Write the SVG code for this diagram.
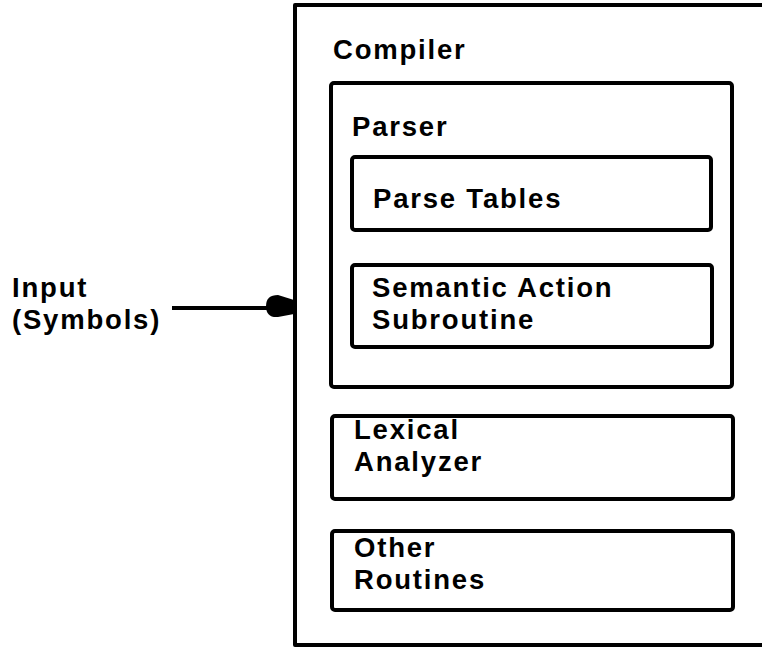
<svg xmlns="http://www.w3.org/2000/svg" width="762" height="648" viewBox="0 0 762 648">
<style>
.box{fill:none;stroke:#000;stroke-width:4;stroke-linejoin:round}
.t{font-family:"Liberation Sans",Arial,sans-serif;font-weight:bold;font-size:27.5px;letter-spacing:1.8px;fill:#000}
.ln{stroke:#000;stroke-width:4;fill:none}
</style>
<rect width="762" height="648" fill="#fff"/>
<g id="compiler">
<path class="box" d="M 800 5 H 295 V 645 H 800"/>
<text class="t" x="333" y="59">Compiler</text>
</g>
<g id="parser">
<rect class="box" x="331" y="83" width="401" height="304" rx="3"/>
<text class="t" x="352" y="136">Parser</text>
</g>
<g id="parse-tables">
<rect class="box" x="352" y="157" width="359" height="73" rx="3"/>
<text class="t" x="373" y="208">Parse Tables</text>
</g>
<g id="semantic-action">
<rect class="box" x="352" y="265" width="360" height="82" rx="3"/>
<text class="t" x="372" y="297">Semantic Action</text>
<text class="t" x="372" y="329">Subroutine</text>
</g>
<g id="lexical-analyzer">
<rect class="box" x="332" y="416" width="401" height="83" rx="3"/>
<text class="t" x="354" y="439">Lexical</text>
<text class="t" x="354" y="471">Analyzer</text>
</g>
<g id="other-routines">
<rect class="box" x="332" y="531" width="401" height="79" rx="3"/>
<text class="t" x="354" y="557">Other</text>
<text class="t" x="354" y="589">Routines</text>
</g>
<g id="input">
<text class="t" x="12" y="297">Input</text>
<text class="t" x="12" y="329">(Symbols)</text>
</g>
<g id="connectors">
<line class="ln" x1="172" y1="308" x2="272" y2="308"/>
<path d="M 294 300 L 278 295 Q 266 295 266 306 Q 266 318 278 317 L 294 314 Z" fill="#000"/>
</g>
</svg>
